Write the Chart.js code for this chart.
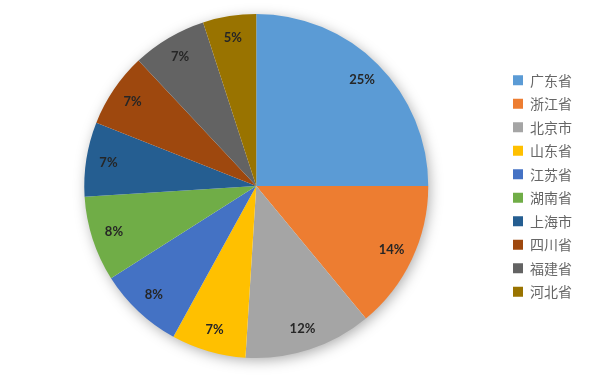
<!DOCTYPE html>
<html>
<head>
<meta charset="utf-8">
<script src="https://cdn.jsdelivr.net/npm/chart.js@4/dist/chart.umd.min.js"></script>
<style>
  html, body { margin: 0; padding: 0; background: #fff; }
  #wrap { width: 591px; height: 377px; position: relative; }
</style>
</head>
<body>
<div id="wrap"><canvas id="pieChart"></canvas></div>
<script>
// provinces and their share (%)
const provinces = ['广东省', '浙江省', '北京市', '山东省', '江苏省', '湖南省', '上海市', '四川省', '福建省', '河北省'];
const shares = [25, 14, 12, 7, 8, 8, 7, 7, 7, 5];
const sliceColors = ['#5B9BD5', '#ED7D31', '#A5A5A5', '#FFC000', '#4472C4', '#70AD47', '#255E91', '#9E480E', '#636363', '#997300'];

// soft shadow under the pie
const pieShadow = {
    id: 'pieShadow',
    beforeDatasetsDraw(chart) {
        const arc = chart.getDatasetMeta(0).data[0];
        if (!arc) return;
        const ctx = chart.ctx;
        ctx.save();
        ctx.shadowColor = 'rgba(0,0,0,0.35)';
        ctx.shadowBlur = 14;
        ctx.shadowOffsetX = 2;
        ctx.shadowOffsetY = 3;
        ctx.fillStyle = '#ffffff';
        ctx.beginPath();
        ctx.arc(arc.x, arc.y, arc.outerRadius - 1, 0, Math.PI * 2);
        ctx.fill();
        ctx.restore();
    }
};

// percent labels near the outer edge of each slice
const sliceLabels = {
    id: 'sliceLabels',
    afterDatasetsDraw(chart) {
        const ctx = chart.ctx;
        const meta = chart.getDatasetMeta(0);
        ctx.save();
        ctx.font = 'bold 13px Lato, "Noto Sans", sans-serif';
        ctx.fillStyle = '#262626';
        ctx.textAlign = 'center';
        ctx.textBaseline = 'middle';
        meta.data.forEach((arc, i) => {
            const p = arc.getProps(['x', 'y', 'startAngle', 'endAngle', 'outerRadius'], true);
            const mid = (p.startAngle + p.endAngle) / 2;
            const r = p.outerRadius * 0.87;
            ctx.fillText(shares[i] + '%', p.x + Math.cos(mid) * r, p.y + Math.sin(mid) * r);
        });
        ctx.restore();
    }
};

new Chart(document.getElementById('pieChart'), {
    type: 'pie',
    data: {
        labels: provinces,
        datasets: [{
            data: shares,
            backgroundColor: sliceColors,
            borderWidth: 0
        }]
    },
    options: {
        responsive: true,
        maintainAspectRatio: false,
        animation: false,
        layout: {
            padding: { top: 14, bottom: 19, left: 9, right: 9 }
        },
        plugins: {
            legend: {
                position: 'right',
                labels: {
                    boxWidth: 10,
                    boxHeight: 10,
                    padding: 9.5,
                    color: '#666666',
                    font: { size: 14, family: '"Noto Sans CJK SC", sans-serif' }
                }
            },
            tooltip: { enabled: false }
        }
    },
    plugins: [pieShadow, sliceLabels]
});
</script>
</body>
</html>
